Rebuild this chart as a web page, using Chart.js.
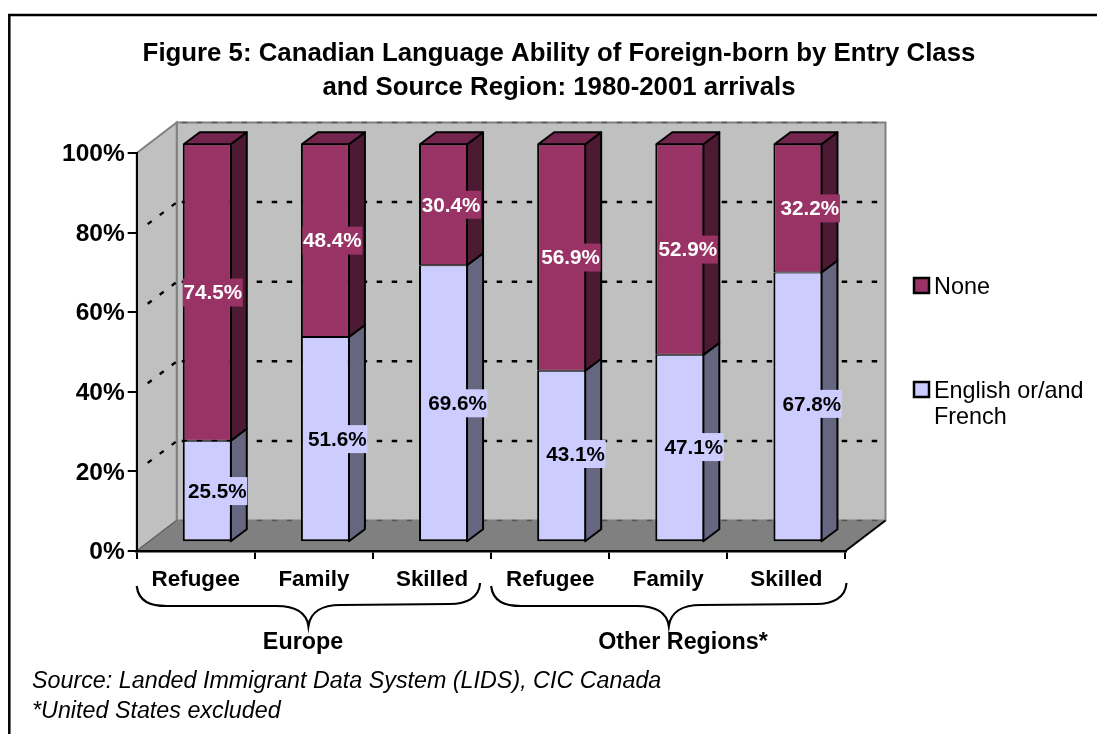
<!DOCTYPE html>
<html>
<head>
<meta charset="utf-8">
<title>Figure 5</title>
<script src="https://cdn.jsdelivr.net/npm/chart.js@4"></script>
<style>
  html, body { margin: 0; padding: 0; background: #fff; }
  #wrap { width: 1097px; height: 734px; }
</style>
</head>
<body>
<div id="wrap"><canvas id="chart" width="1097" height="734"></canvas></div>
<script>
'use strict';

// Data
var categories = ["Refugee", "Family", "Skilled", "Refugee", "Family", "Skilled"];
var englishFrench = [25.5, 51.6, 69.6, 43.1, 47.1, 67.8];
var none = [74.5, 48.4, 30.4, 56.9, 52.9, 32.2];
var groups = ["Europe", "Other Regions*"];
var yTicks = [0, 20, 40, 60, 80, 100];
var titleLines = ["Figure 5: Canadian Language Ability of Foreign-born by Entry Class",
	"and Source Region: 1980-2001 arrivals"];
var footLines = ["Source: Landed Immigrant Data System (LIDS), CIC Canada", "*United States excluded"];

var colours = {
	purple: '#993366', purpleTop: '#73264d', purpleSide: '#4d1a33',
	lav: '#ccccff', lavSide: '#666680',
	wall: '#c0c0c0', floor: '#808080', edge: '#808080'
};

var FONT = '"Liberation Sans", Arial, sans-serif';

// 3D look of the old spreadsheet chart
var wallDx = 40, wallDy = -30.5;   // front plane -> back wall
var barDx = 11.5, barDy = -8.7;    // front plane -> bar front
var sideDx = 16, sideDy = -12;     // bar depth

// Excel did not centre the labels, nudge them by hand
var labelNudge = [[10, 12, 14, 14, 14, 14], [5.5, 7, 7.5, 9, 8, 12]];
var labelLift = [[0, 0, 0, 2, 1, 3], [0, 0, 0, 0, 0, 0]];

function poly(ctx, pts, fill, stroke, lw) {
	ctx.beginPath();
	ctx.moveTo(pts[0][0], pts[0][1]);
	for (var i = 1; i < pts.length; i++) ctx.lineTo(pts[i][0], pts[i][1]);
	ctx.closePath();
	if (fill) { ctx.fillStyle = fill; ctx.fill(); }
	if (stroke) { ctx.strokeStyle = stroke; ctx.lineWidth = lw; ctx.stroke(); }
}

function brace(ctx, x0, x1, yTop) {
	var mid = (x0 + x1) / 2;
	var yh = yTop + 20, tip = yTop + 40;
	ctx.beginPath();
	ctx.moveTo(x0, yTop);
	ctx.bezierCurveTo(x0 + 2, yh - 4, x0 + 14, yh, x0 + 30, yh);
	ctx.lineTo(mid - 32, yh);
	ctx.bezierCurveTo(mid - 14, yh, mid - 2, yh + 6, mid, tip);
	ctx.bezierCurveTo(mid + 2, yh + 6, mid + 14, yh - 1, mid + 32, yh - 1);
	ctx.lineTo(x1 - 30, yh - 2);
	ctx.bezierCurveTo(x1 - 14, yh - 2, x1 - 1, yh - 8, x1, yTop - 3);
	ctx.strokeStyle = '#000';
	ctx.lineWidth = 2.2;
	ctx.stroke();
}

var sceneryPlugin = {
	id: 'scenery',
	beforeDraw: function(chart) {
		var ctx = chart.ctx, a = chart.chartArea, y = chart.scales.y;
		ctx.save();
		ctx.fillStyle = '#fff';
		ctx.fillRect(0, 0, chart.width, chart.height);

		// outer frame
		ctx.strokeStyle = '#000';
		ctx.lineWidth = 2.5;
		ctx.strokeRect(9.3, 15, 1200, 900);

		// back wall, side wall, floor
		poly(ctx, [[a.left + wallDx, a.top + wallDy], [a.right + wallDx, a.top + wallDy],
			[a.right + wallDx, a.bottom + wallDy], [a.left + wallDx, a.bottom + wallDy]], colours.wall, colours.edge, 2);
		poly(ctx, [[a.left, a.top], [a.left + wallDx, a.top + wallDy],
			[a.left + wallDx, a.bottom + wallDy], [a.left, a.bottom]], colours.wall, colours.edge, 2);
		poly(ctx, [[a.left, a.bottom], [a.right, a.bottom],
			[a.right + wallDx, a.bottom + wallDy], [a.left + wallDx, a.bottom + wallDy]], colours.floor, null, 0);
		ctx.strokeStyle = '#000';
		ctx.lineWidth = 2;
		ctx.beginPath();
		ctx.moveTo(a.right, a.bottom);
		ctx.lineTo(a.right + wallDx, a.bottom + wallDy);
		ctx.stroke();
		ctx.strokeStyle = '#555';
		ctx.lineWidth = 1;
		ctx.beginPath();
		ctx.moveTo(a.left, a.bottom);
		ctx.lineTo(a.left + wallDx, a.bottom + wallDy);
		ctx.stroke();

		// dotted gridlines on both walls
		yTicks.forEach(function(v) {
			var py = y.getPixelForValue(v);
			ctx.strokeStyle = v === 0 || v === 100 ? '#555' : '#000';
			ctx.lineWidth = v === 0 || v === 100 ? 1.5 : 2.5;
			ctx.setLineDash([5.5, 9.5]);
			ctx.beginPath();
			ctx.moveTo(a.left + wallDx + 5, py + wallDy);
			ctx.lineTo(a.right + wallDx, py + wallDy);
			ctx.stroke();
			if (v > 0 && v < 100) {
				ctx.lineWidth = 2.4;
				ctx.setLineDash([5, 10]);
				ctx.beginPath();
				ctx.moveTo(a.left + wallDx - 1, py + wallDy + 1);
				ctx.lineTo(a.left + 9, py - 7);
				ctx.stroke();
			}
		});
		ctx.restore();
	},
	beforeDatasetsDraw: function(chart) {
		// side and top faces first, then the library draws the front faces shifted
		var ctx = chart.ctx;
		ctx.save();
		ctx.translate(barDx, barDy);
		ctx.lineJoin = 'round';
		chart.getDatasetMeta(0).data.forEach(function(bar) {
			var r = bar.x + bar.width / 2 - 1;
			poly(ctx, [[r, bar.y], [r + sideDx, bar.y + sideDy], [r + sideDx, bar.base + sideDy], [r, bar.base]],
				colours.lavSide, '#000', 2);
		});
		chart.getDatasetMeta(1).data.forEach(function(bar) {
			var l = bar.x - bar.width / 2 + 1, r = bar.x + bar.width / 2 - 1;
			poly(ctx, [[r, bar.y], [r + sideDx, bar.y + sideDy], [r + sideDx, bar.base + sideDy], [r, bar.base]],
				colours.purpleSide, '#000', 2);
			poly(ctx, [[l, bar.y], [l + sideDx, bar.y + sideDy], [r + sideDx, bar.y + sideDy], [r, bar.y]],
				colours.purpleTop, '#000', 2);
		});
	},
	afterDatasetsDraw: function(chart) {
		var ctx = chart.ctx;
		ctx.restore();
		ctx.save();
		ctx.textAlign = 'center';
		ctx.textBaseline = 'middle';
		ctx.font = 'bold 20.7px ' + FONT;
		chart.data.datasets.forEach(function(ds, d) {
			chart.getDatasetMeta(d).data.forEach(function(bar, i) {
				var cx = bar.x + barDx + labelNudge[d][i];
				var cy = (bar.y + bar.base) / 2 + barDy - labelLift[d][i];
				ctx.fillStyle = ds.backgroundColor;
				ctx.fillRect(cx - 30, cy - 14, 60, 28);
				ctx.fillStyle = d === 1 ? '#fff' : '#000';
				ctx.fillText(ds.data[i].toFixed(1) + '%', cx, cy + 1);
			});
		});
		ctx.restore();
	},
	afterDraw: function(chart) {
		var ctx = chart.ctx, x = chart.scales.x;
		ctx.save();
		ctx.fillStyle = '#000';
		ctx.textBaseline = 'alphabetic';
		ctx.textAlign = 'center';

		// title
		ctx.font = 'bold 25.8px ' + FONT;
		ctx.fillText(titleLines[0], 559, 61);
		ctx.fillText(titleLines[1], 559, 94.5);

		// braces and group names under the categories
		var half = (x.getPixelForValue(1) - x.getPixelForValue(0)) / 2;
		brace(ctx, x.getPixelForValue(0) - half, x.getPixelForValue(2) + half - 11, 586);
		brace(ctx, x.getPixelForValue(3) - half, x.getPixelForValue(5) + half + 1, 586);
		ctx.font = 'bold 23.3px ' + FONT;
		ctx.fillText(groups[0], 303, 649);
		ctx.fillText(groups[1], 683, 649);

		// legend
		ctx.textAlign = 'left';
		ctx.font = '23.4px ' + FONT;
		var sets = chart.data.datasets;
		ctx.strokeStyle = '#000';
		ctx.lineWidth = 2.5;
		ctx.fillStyle = sets[1].backgroundColor;
		ctx.fillRect(914, 278, 15, 15);
		ctx.strokeRect(914, 278, 15, 15);
		ctx.fillStyle = sets[0].backgroundColor;
		ctx.fillRect(914, 382, 15, 15);
		ctx.strokeRect(914, 382, 15, 15);
		ctx.fillStyle = '#000';
		ctx.fillText(sets[1].label, 934, 293.5);
		ctx.fillText('English or/and', 934, 397.5);
		ctx.fillText('French', 934, 424);

		// footnotes
		ctx.font = 'italic 23.3px ' + FONT;
		ctx.fillText(footLines[0], 32, 687.5);
		ctx.fillText(footLines[1], 32, 718);
		ctx.restore();
	}
};

var config = {
	type: 'bar',
	data: {
		labels: categories,
		datasets: [
			{ label: 'English or/and French', data: englishFrench, backgroundColor: colours.lav,
				borderWidth: { top: 1, left: 2, right: 2, bottom: 2 } },
			{ label: 'None', data: none, backgroundColor: colours.purple,
				borderWidth: { top: 1, left: 2, right: 2, bottom: 1 } }
		]
	},
	options: {
		responsive: false,
		animation: false,
		events: [],
		layout: { padding: { left: 0, top: 153, right: 251.5, bottom: 143 } },
		datasets: {
			bar: {
				barPercentage: 0.415,
				categoryPercentage: 1,
				borderColor: '#000',
				borderSkipped: false
			}
		},
		plugins: {
			legend: { display: false },
			title: { display: false },
			tooltip: { enabled: false }
		},
		scales: {
			x: {
				stacked: true,
				afterFit: function(s) { s.height = 40; },
				grid: { drawOnChartArea: false, color: '#000', lineWidth: 2, tickLength: 8 },
				border: { color: '#000', width: 2.5 },
				ticks: {
					color: '#000',
					padding: 7,
					maxRotation: 0,
					autoSkip: false,
					font: { family: FONT, size: 22.4, weight: 'bold' }
				}
			},
			y: {
				stacked: true,
				min: 0,
				max: 100,
				afterFit: function(s) { s.width = 136.7; },
				grid: { drawOnChartArea: false, color: '#000', lineWidth: 2, tickLength: 9 },
				border: { color: '#000', width: 2 },
				ticks: {
					stepSize: 20,
					color: '#000',
					padding: 3,
					labelOffset: 1.5,
					font: { family: FONT, size: 24.5, weight: 'bold' },
					callback: function(v) { return v + '%'; }
				}
			}
		}
	},
	plugins: [sceneryPlugin]
};

window.myBars = new Chart(document.getElementById('chart').getContext('2d'), config);
</script>
</body>
</html>
